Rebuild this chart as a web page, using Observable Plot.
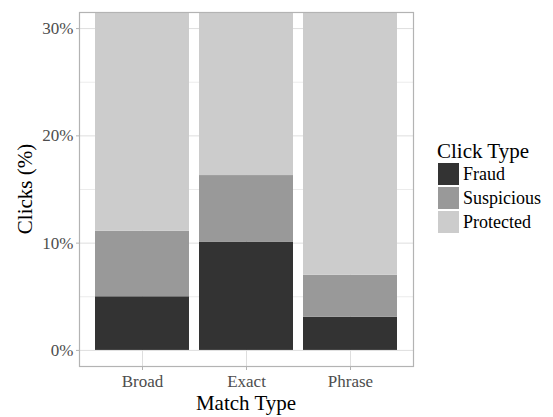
<!DOCTYPE html>
<html><head><meta charset="utf-8">
<script src="https://cdn.jsdelivr.net/npm/d3@7"></script>
<script src="https://cdn.jsdelivr.net/npm/@observablehq/plot@0.6"></script>
<style>
body{margin:0;background:#fff}
#wrap{position:relative;width:553px;height:417px;font-family:"Liberation Serif",serif;color:#000}
#wrap svg{position:absolute;left:0;top:0;font-family:"Liberation Serif",serif !important}
#wrap svg text{font-family:"Liberation Serif",serif !important}
.t{position:absolute;white-space:nowrap;line-height:1;font-family:"Liberation Serif",serif}
</style></head>
<body><div id="wrap"></div>
<script>
const matchTypes = ["Broad", "Exact", "Phrase"];
const clickTypes = ["Fraud", "Suspicious", "Protected"];
const fraud = [5.0, 10.1, 3.1];
const suspicious = [6.1, 6.2, 3.9];
const protectedPct = [88.9, 83.7, 93.0];
const colors = ["#333333", "#999999", "#cccccc"];
const yTicks = [0, 10, 20, 30];
const yMinor = [5, 15, 25];

const series = [fraud, suspicious, protectedPct];
const rows = [];
matchTypes.forEach((m, i) => {
  clickTypes.forEach((c, j) => rows.push({match: m, type: c, value: series[j][i]}));
});

const serif = '"Liberation Serif", serif';
const plot = Plot.plot({
  width: 553, height: 417,
  marginLeft: 79, marginRight: 140, marginTop: 12, marginBottom: 51,
  style: {fontFamily: serif, background: "white", overflow: "visible"},
  x: {domain: matchTypes, paddingInner: 0.1, paddingOuter: 0.15, axis: null},
  y: {domain: [-1.5, 31.5], axis: null},
  color: {domain: clickTypes, range: colors},
  marks: [
    Plot.gridY(yMinor, {stroke: "#dedede", strokeOpacity: 1, strokeWidth: 0.6}),
    Plot.gridY(yTicks, {stroke: "#dedede", strokeOpacity: 1, strokeWidth: 1}),
    Plot.gridX(matchTypes, {stroke: "#dedede", strokeOpacity: 1, strokeWidth: 1}),
    Plot.barY(rows, {x: "match", y: "value", fill: "type", clip: true}),
    Plot.frame({stroke: "#b3b3b3", strokeWidth: 1.2}),
    Plot.axisY(yTicks, {tickSize: 3, tickPadding: 3, stroke: "#b3b3b3", fill: "#4d4d4d", fontSize: 17, fontFamily: serif, tickFormat: d => d + "%", label: null}),
    Plot.axisX(matchTypes, {tickSize: 4, tickPadding: 4, stroke: "#b3b3b3", fill: "#4d4d4d", fontSize: 17, fontFamily: serif, label: null})
  ]
});
const wrap = document.getElementById("wrap");
wrap.appendChild(plot);

function addText(txt, css) {
  const d = document.createElement("div");
  d.className = "t";
  d.textContent = txt;
  Object.assign(d.style, css);
  wrap.appendChild(d);
  return d;
}
// axis titles
addText("Match Type", {left: "246px", top: "393px", fontSize: "21px", transform: "translateX(-50%)"});
addText("Clicks (%)", {left: "25px", top: "189px", fontSize: "21px", transform: "translate(-50%,-50%) rotate(-90deg)"});
// legend
addText("Click Type", {left: "437px", top: "141px", fontSize: "21px"});
clickTypes.forEach((c, i) => {
  const k = document.createElement("div");
  Object.assign(k.style, {position: "absolute", left: "438px", top: (163 + 24 * i) + "px", width: "21px", height: "22px", background: colors[i]});
  wrap.appendChild(k);
  addText(c, {left: "463px", top: (163 + 24 * i) + "px", fontSize: "18px", lineHeight: "22px"});
});
</script>
</body></html>
